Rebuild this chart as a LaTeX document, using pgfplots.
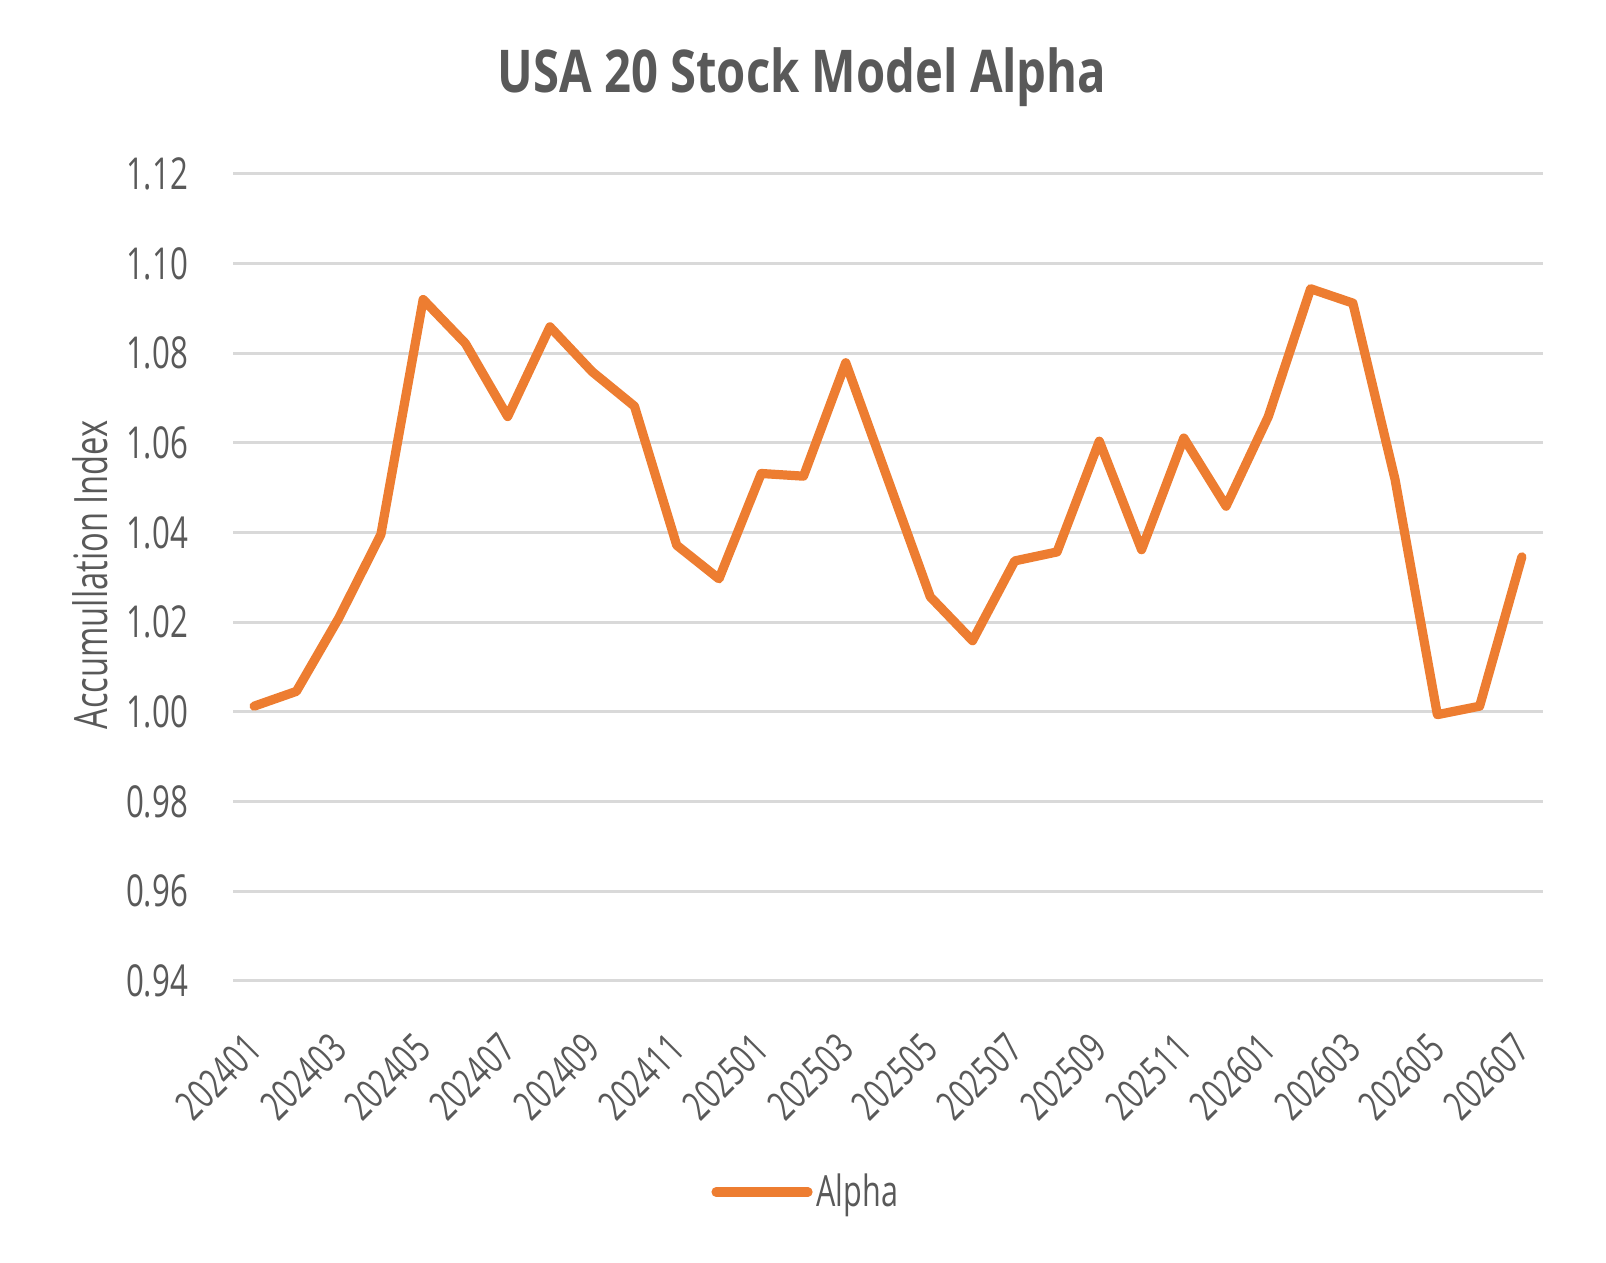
\documentclass[border=0pt]{standalone}
\usepackage{fontspec}
\setmainfont{Open Sans}[FakeStretch=0.71]
\newfontfamily\titlefont{Open Sans}[FakeStretch=0.8]
\usepackage{pgfplots}
\pgfplotsset{compat=1.18}
\definecolor{alphac}{HTML}{ED7D31}
\definecolor{txt}{HTML}{595959}
\definecolor{grd}{HTML}{D9D9D9}
\begin{document}
\begin{tikzpicture}
\useasboundingbox (0,0) rectangle (803pt,631.5pt);
\begin{axis}[
  at={(116.5pt,141pt)}, anchor=south west,
  scale only axis, width=655pt, height=403.5pt,
  xmin=-0.5, xmax=30.5, ymin=0.94, ymax=1.12,
  ytick={0.94,0.96,0.98,1.00,1.02,1.04,1.06,1.08,1.10,1.12},
  xtick={0,2,...,30},
  xticklabels={202401,202403,202405,202407,202409,202411,202501,202503,202505,202507,202509,202511,202601,202603,202605,202607},
  axis line style={draw=none},
  major tick length=0pt,
  ymajorgrids, grid style={grd, line width=1.5pt},
  tick label style={text=txt},
  y tick label style={font=\fontsize{22}{26}\selectfont, xshift=-19pt},
  x tick label style={font=\fontsize{20.5}{24}\selectfont, rotate=45, anchor=north east, xshift=-18pt, yshift=-10.3pt},
  yticklabel style={/pgf/number format/.cd, fixed, fixed zerofill, precision=2, assume math mode=true},
  legend style={at={(0.438,-0.2615)}, anchor=center, draw=none, fill=none, font=\fontsize{21.5}{25}\selectfont, text=txt},
  legend image code/.code={\draw[#1] (0pt,0pt) -- (46pt,0pt);},
]
\addplot[alphac, line width=4.6pt, line join=round, line cap=round] coordinates {
(0,1.0013) (1,1.0046) (2,1.0209) (3,1.0396) (4,1.0920) (5,1.0822)
(6,1.0659) (7,1.0859) (8,1.0759) (9,1.0682) (10,1.0372) (11,1.0297)
(12,1.0532) (13,1.0526) (14,1.0779) (15,1.0518) (16,1.0257) (17,1.0159)
(18,1.0337) (19,1.0357) (20,1.0604) (21,1.0362) (22,1.0611) (23,1.0459)
(24,1.0659) (25,1.0944) (26,1.0912) (27,1.0518) (28,0.9994) (29,1.0013)
(30,1.0346)
};
\addlegendentry{Alpha}
\end{axis}
\node[font=\titlefont\bfseries\fontsize{29.5}{34}\selectfont, text=txt] at (401pt,593pt) {USA 20 Stock Model Alpha};
\node[rotate=90, font=\fontsize{23}{27}\selectfont, text=txt] at (45pt,344pt) {Accumullation Index};
\end{tikzpicture}
\end{document}
